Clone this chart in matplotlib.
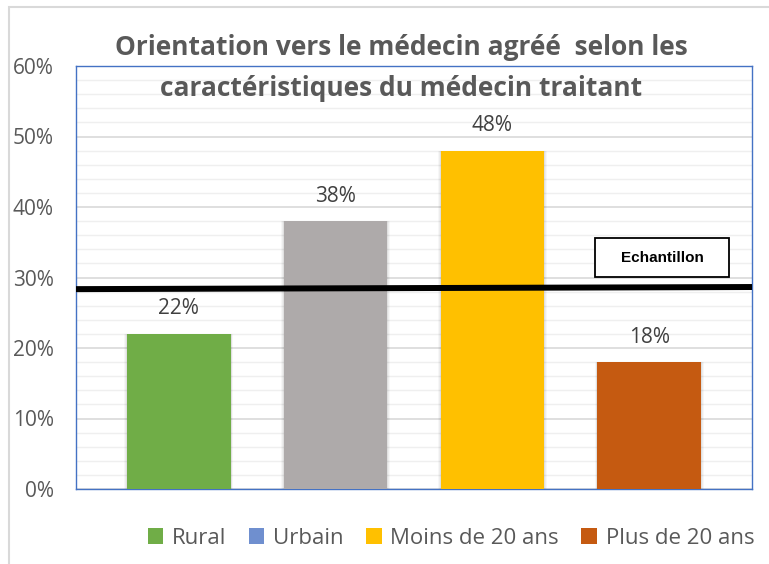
import matplotlib
matplotlib.use("Agg")
import matplotlib.pyplot as plt
from matplotlib.patches import Patch, Rectangle
from matplotlib.ticker import MultipleLocator, FuncFormatter

plt.rcParams["font.family"] = ["Open Sans", "DejaVu Sans"]

categories = ["Rural", "Urbain", "Moins de 20 ans", "Plus de 20 ans"]
values = [22, 38, 48, 18]
bar_colors = ["#70ad47", "#aeaaaa", "#ffc000", "#c55a11"]
legend_colors = ["#70ad47", "#6f8fcf", "#ffc000", "#c55a11"]
sample_line = [28.35, 28.65]   # Echantillon reference line (left, right)
sample_label = "Echantillon"
title = "Orientation vers le médecin agréé  selon les\ncaractéristiques du médecin traitant"

W, H = 769, 564
fig = plt.figure(figsize=(W / 100, H / 100), dpi=100)
fig.patch.set_facecolor("white")

# outer chart frame (only left and top edges visible)
fig.patches.append(Rectangle((9 / W, -1), 2, 2 - 7 / H, transform=fig.transFigure,
                             fill=False, edgecolor="#d9d9d9", linewidth=1.5))

ax = fig.add_axes([76 / W, (H - 489) / H, 676 / W, 423 / H])
x = list(range(len(categories)))
ax.set_xlim(-0.656, len(categories) - 1 + 0.656)
ax.set_ylim(0, 60)

ax.yaxis.set_major_locator(MultipleLocator(10))
ax.yaxis.set_minor_locator(MultipleLocator(2))
ax.yaxis.set_major_formatter(FuncFormatter(lambda v, p: f"{v:.0f}%"))
ax.grid(axis="y", which="major", color="#d9d9d9", linewidth=1.2, zorder=0)
ax.grid(axis="y", which="minor", color="#efefef", linewidth=1.0, zorder=0)
ax.set_axisbelow(True)
ax.tick_params(axis="y", which="both", length=0, pad=16, labelsize=15, labelcolor="#595959")
ax.tick_params(axis="x", which="both", length=0, labelbottom=False)
for s in ax.spines.values():
    s.set_color("#4472c4")
    s.set_linewidth(1.0)

# soft shadow + bars
for xi, v in zip(x, values):
    for k, a in enumerate([0.05, 0.04, 0.03]):
        ax.bar(xi, v, width=0.66 + 0.012 * (k + 1), color="black", alpha=a, zorder=2, linewidth=0)
ax.bar(x, values, width=0.66, color=bar_colors, zorder=3, linewidth=0)

for xi, v in zip(x, values):
    ax.annotate(f"{v}%", (xi, v), xytext=(0, 25), textcoords="offset pixels",
                ha="center", va="center", fontsize=15, color="#404040")

# sample reference line
ax.plot([ax.get_xlim()[0], ax.get_xlim()[1]], sample_line, color="black", linewidth=4.3,
        zorder=4, solid_capstyle="butt", clip_on=False)

# Echantillon box
fig.patches.append(Rectangle((595 / W, 1 - 277 / H), 134 / W, 39 / H, transform=fig.transFigure,
                             fill=True, facecolor="white", edgecolor="black", linewidth=1.3, zorder=5))
fig.text(662 / W, 1 - 258 / H, sample_label, ha="center", va="center", fontsize=11,
         fontweight="bold", family="Liberation Sans", color="black", zorder=6)

# title
fig.text(401 / W, 1 - 68 / H, title, ha="center", va="center", fontsize=19, fontweight="bold",
         color="#595959", linespacing=1.68)

# legend
handles = [Patch(facecolor=c, edgecolor="none") for c in legend_colors]
fig.legend(handles, categories, loc="center", bbox_to_anchor=(451 / W, 1 - 538 / H), ncol=4,
           frameon=False, prop={"size": 16}, labelcolor="#595959",
           handlelength=0.7, handleheight=0.7, handletextpad=0.4, columnspacing=1.0)

fig.savefig("out.png", dpi=100, facecolor="white")
